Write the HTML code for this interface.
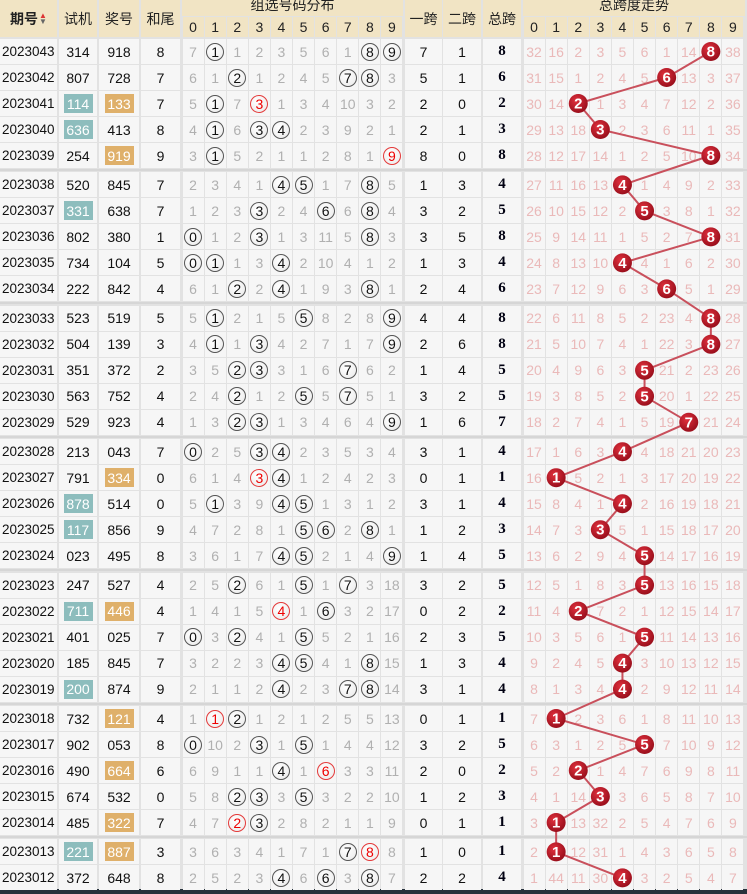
<!DOCTYPE html>
<html><head><meta charset="utf-8">
<style>
html,body{margin:0;padding:0;background:#fff;}
#wrap{position:relative;width:747px;height:894px;overflow:hidden;background:#e2e2e2;font-family:"Liberation Sans","Noto Sans CJK SC",sans-serif;}
.c{position:absolute;display:flex;align-items:center;justify-content:center;box-sizing:border-box;font-size:14px;color:#111;}
.h{background:#f1e4c4;color:#222;font-size:14px;}
.d{background:#f6f6f6;}
.miss{color:#b0b0b0;font-size:14px;}
.tm{color:#eab9b9;font-size:14px;}
.ring{width:18px;height:18px;border-radius:50%;border:1.5px solid #555;box-sizing:border-box;display:flex;align-items:center;justify-content:center;font-size:14px;color:#111;background:radial-gradient(circle at 40% 35%,#fff,#e9e9e9);}
.ring.red{border-color:#e43a3a;color:#e00;}
.hlt{background:#8dbdbd;color:#fff;width:29px;height:19px;display:flex;align-items:center;justify-content:center;}
.hlj{background:#dfb06a;color:#fff;width:29px;height:19px;display:flex;align-items:center;justify-content:center;}
#bottom{position:absolute;left:0;top:889px;width:747px;height:5px;background:#27323c;}
</style></head>
<body>
<div id="wrap">
<svg id="ov" width="747" height="894" style="position:absolute;left:0;top:0;z-index:5;pointer-events:none"></svg>
<div id="bottom"></div>
</div>
<script>
const issues=["2023043","2023042","2023041","2023040","2023039","2023038","2023037","2023036","2023035","2023034","2023033","2023032","2023031","2023030","2023029","2023028","2023027","2023026","2023025","2023024","2023023","2023022","2023021","2023020","2023019","2023018","2023017","2023016","2023015","2023014","2023013","2023012"];
const trial=["314","807","114","636","254","520","331","802","734","222","523","504","351","563","529","213","791","878","117","023","247","711","401","185","200","732","902","490","674","485","221","372"];
const prize=["918","728","133","413","919","845","638","380","104","842","519","139","372","752","923","043","334","514","856","495","527","446","025","845","874","121","053","664","532","322","887","648"];
const sumTail=[8,7,7,8,9,7,7,1,5,4,5,3,2,4,4,7,0,0,9,8,4,4,7,7,9,4,8,6,0,7,3,8];
const distMiss=[
[7,1,1,2,3,5,6,1,8,9],[6,1,2,1,2,4,5,7,8,3],[5,1,7,3,1,3,4,10,3,2],[4,1,6,3,4,2,3,9,2,1],[3,1,5,2,1,1,2,8,1,9],
[2,3,4,1,4,5,1,7,8,5],[1,2,3,3,2,4,6,6,8,4],[0,1,2,3,1,3,11,5,8,3],[0,1,1,3,4,2,10,4,1,2],[6,1,2,2,4,1,9,3,8,1],
[5,1,2,1,5,5,8,2,8,9],[4,1,1,3,4,2,7,1,7,9],[3,5,2,3,3,1,6,7,6,2],[2,4,2,1,2,5,5,7,5,1],[1,3,2,3,1,3,4,6,4,9],
[0,2,5,3,4,2,3,5,3,4],[6,1,4,3,4,1,2,4,2,3],[5,1,3,9,4,5,1,3,1,2],[4,7,2,8,1,5,6,2,8,1],[3,6,1,7,4,5,2,1,4,9],
[2,5,2,6,1,5,1,7,3,18],[1,4,1,5,4,1,6,3,2,17],[0,3,2,4,1,5,5,2,1,16],[3,2,2,3,4,5,4,1,8,15],[2,1,1,2,4,2,3,7,8,14],
[1,1,2,1,2,1,2,5,5,13],[0,10,2,3,1,5,1,4,4,12],[6,9,1,1,4,1,6,3,3,11],[5,8,2,3,3,5,3,2,2,10],[4,7,2,3,2,8,2,1,1,9],
[3,6,3,4,1,7,1,7,8,8],[2,5,2,3,4,6,6,3,8,7]];
const span1=[7,5,2,2,8,1,3,3,1,2,4,2,1,3,1,3,0,3,1,1,3,0,2,1,3,0,3,2,1,0,1,2];
const span2=[1,1,0,1,0,3,2,5,3,4,4,6,4,2,6,1,1,1,2,4,2,2,3,3,1,1,2,0,2,1,0,2];
const spanTotal=[8,6,2,3,8,4,5,8,4,6,8,8,5,5,7,4,1,4,3,5,5,2,5,4,4,1,5,2,3,1,1,4];
const trendMiss=[
[32,16,2,3,5,6,1,14,0,38],[31,15,1,2,4,5,0,13,3,37],[30,14,0,1,3,4,7,12,2,36],[29,13,18,0,2,3,6,11,1,35],[28,12,17,14,1,2,5,10,0,34],
[27,11,16,13,0,1,4,9,2,33],[26,10,15,12,2,0,3,8,1,32],[25,9,14,11,1,5,2,7,0,31],[24,8,13,10,0,4,1,6,2,30],[23,7,12,9,6,3,0,5,1,29],
[22,6,11,8,5,2,23,4,0,28],[21,5,10,7,4,1,22,3,0,27],[20,4,9,6,3,0,21,2,23,26],[19,3,8,5,2,0,20,1,22,25],[18,2,7,4,1,5,19,0,21,24],
[17,1,6,3,0,4,18,21,20,23],[16,0,5,2,1,3,17,20,19,22],[15,8,4,1,0,2,16,19,18,21],[14,7,3,0,5,1,15,18,17,20],[13,6,2,9,4,0,14,17,16,19],
[12,5,1,8,3,0,13,16,15,18],[11,4,0,7,2,1,12,15,14,17],[10,3,5,6,1,0,11,14,13,16],[9,2,4,5,0,3,10,13,12,15],[8,1,3,4,0,2,9,12,11,14],
[7,0,2,3,6,1,8,11,10,13],[6,3,1,2,5,0,7,10,9,12],[5,2,0,1,4,7,6,9,8,11],[4,1,14,0,3,6,5,8,7,10],[3,0,13,32,2,5,4,7,6,9],
[2,0,12,31,1,4,3,6,5,8],[1,44,11,30,0,3,2,5,4,7]];
const digitLabels=["0","1","2","3","4","5","6","7","8","9"];

const W=document.getElementById('wrap');
const S=document.getElementById('ov');
const NS="http://www.w3.org/2000/svg";
function cell(x,y,w,h,cls,html){const d=document.createElement('div');d.className='c '+cls;d.style.left=x+'px';d.style.top=y+'px';d.style.width=w+'px';d.style.height=h+'px';d.innerHTML=html;W.appendChild(d);return d;}
const DX=182,DW=22.1,TX=523,TW=22.1;
function dX(i){return DX+i*DW;}
function tX(i){return TX+i*TW;}
function rowTop(r){return 38.5+Math.floor(r/5)*133.4+(r%5)*26;}
let e;
e=cell(0,0,57,37,'h','<b style="font-size:14px">期号</b><span style="font-size:8px;line-height:6px;margin-left:1px;display:inline-flex;flex-direction:column"><span style="color:#d33">▲</span><span style="color:#666">▼</span></span>');

e=cell(59,0,38,37,'h','试机');
e=cell(99,0,40,37,'h','奖号');
e=cell(141,0,39,37,'h','和尾');
e=cell(182,0,221,16,'h','<span style="margin-top:-6px">组选号码分布</span>');
e=cell(405,0,37,37,'h','一跨');
e=cell(443,0,38,37,'h','二跨');
e=cell(483,0,38,37,'h','总跨');
e=cell(523,0,222,16,'h','<span style="margin-top:-6px">总跨度走势</span>');
for(let i=0;i<10;i++){
 e=cell(dX(i)+0.5,17,DW-1,20,'h',digitLabels[i]);
 e=cell(tX(i)+0.5,17,TW-1,20,'h',digitLabels[i]);
}
const pts=[];
for(let r=0;r<issues.length;r++){
 const y=rowTop(r)+0.5,h=25;
 e=cell(0,y,57,h,'d','<span style="width:100%;padding-left:2px;font-size:13.5px">'+issues[r]+'</span>');
 const tp=new Set(trial[r]).size===2, pp=new Set(prize[r]).size===2;
 e=cell(59,y,38,h,'d',tp?'<span class="hlt">'+trial[r]+'</span>':trial[r]);
 e=cell(99,y,40,h,'d',pp?'<span class="hlj">'+prize[r]+'</span>':prize[r]);
 e=cell(141,y,39,h,'d',String(sumTail[r]));
 for(let i=0;i<10;i++){
  const cnt=prize[r].split('').filter(c=>c==String(i)).length;
  const html=cnt>0?'<span class="ring'+(cnt>1?' red':'')+'">'+i+'</span>':'<span class="miss">'+distMiss[r][i]+'</span>';
  e=cell(dX(i)+0.5,y,DW-1,h,'d',html);
 }
 e=cell(405,y,37,h,'d',String(span1[r]));
 e=cell(443,y,38,h,'d',String(span2[r]));
 e=cell(483,y,38,h,'d','<b style="font-family:Liberation Serif,serif;font-size:15px;color:#001">'+spanTotal[r]+'</b>');
 for(let i=0;i<10;i++){
  const hit=i===spanTotal[r];
  e=cell(tX(i)+0.5,y,TW-1,h,'d',hit?'':'<span class="tm">'+trendMiss[r][i]+'</span>');
 }
 pts.push([tX(spanTotal[r])+TW/2,rowTop(r)+13]);
}
for(let g=1;g<7;g++){const d=document.createElement('div');d.style.cssText='position:absolute;left:0;width:747px;height:2px;background:#d6d6d6;top:'+(38.5+g*133.4-3)+'px';


W.appendChild(d);}
const defs=document.createElementNS(NS,'defs');defs.innerHTML='<radialGradient id="bg" cx="40%" cy="35%" r="65%"><stop offset="0" stop-color="#e0303d"/><stop offset="1" stop-color="#9a0f1c"/></radialGradient>';S.appendChild(defs);
for(let i=1;i<pts.length;i++){const l=document.createElementNS(NS,'line');l.setAttribute('x1',pts[i-1][0]);l.setAttribute('y1',pts[i-1][1]);l.setAttribute('x2',pts[i][0]);l.setAttribute('y2',pts[i][1]);l.setAttribute('stroke','#c9505c');l.setAttribute('stroke-width','2');


S.appendChild(l);}
for(let i=0;i<pts.length;i++){const c=document.createElementNS(NS,'circle');c.setAttribute('cx',pts[i][0]);c.setAttribute('cy',pts[i][1]);c.setAttribute('r','9.5');c.setAttribute('fill','url(#bg)');


S.appendChild(c);
const t=document.createElementNS(NS,'text');t.setAttribute('x',pts[i][0]);t.setAttribute('y',pts[i][1]+5);t.setAttribute('text-anchor','middle');t.setAttribute('fill','#fff');t.setAttribute('font-size','15');t.setAttribute('font-weight','bold');t.setAttribute('font-family','Liberation Sans, sans-serif');t.textContent=spanTotal[i];


S.appendChild(t);}
</script>
</body></html>
